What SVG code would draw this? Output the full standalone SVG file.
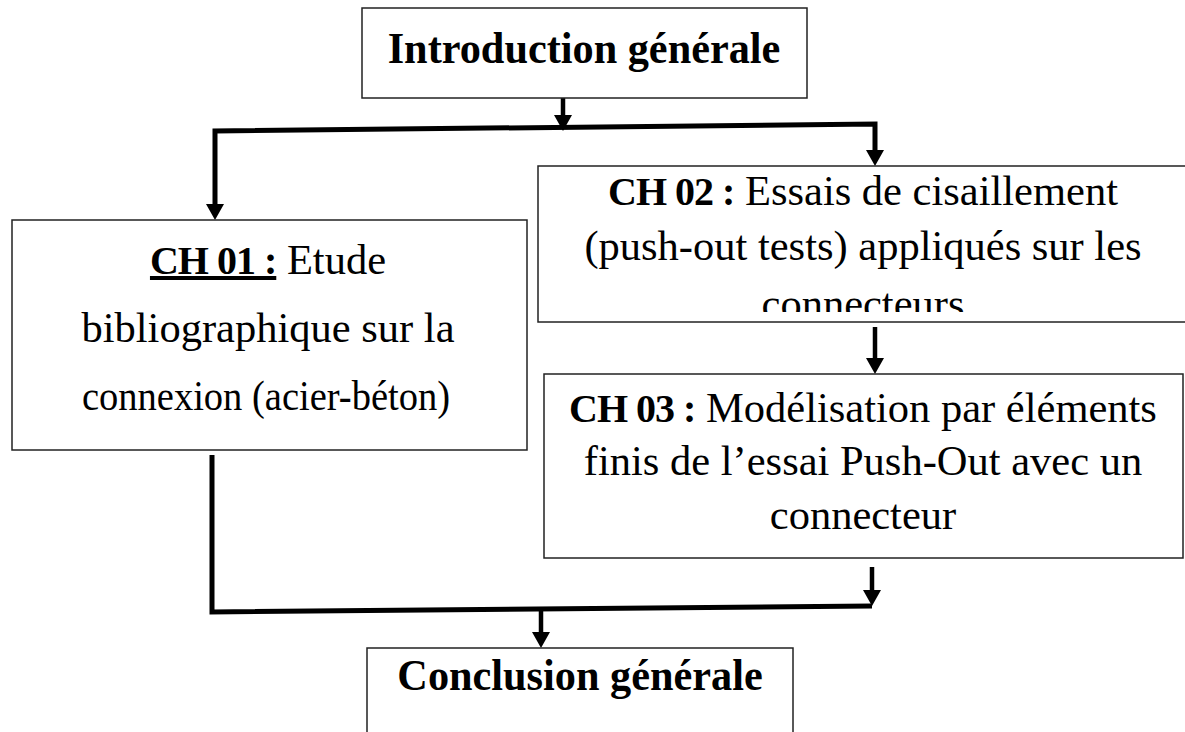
<svg xmlns="http://www.w3.org/2000/svg" width="1185" height="732" viewBox="0 0 1185 732">
  <style>
    .box { fill: #ffffff; stroke: #222222; stroke-width: 1.5; }
    .txt { font-family: "Liberation Serif", "Times New Roman", serif; fill: #000000; text-anchor: middle; }
    .title { font-size: 45px; font-weight: bold; }
    .body { font-size: 42.5px; }
    .b { font-weight: bold; font-size: 40px; letter-spacing: -1px; }
    .u { text-decoration: underline; }
    .link { fill: none; stroke: #000000; stroke-width: 5; stroke-linejoin: miter; stroke-linecap: butt; }
    .short { stroke-width: 4.5; }
  </style>
  <defs>
    <marker id="arrow" markerUnits="userSpaceOnUse" viewBox="0 0 16 18" refX="6" refY="9" markerWidth="16" markerHeight="18" orient="auto-start-reverse">
      <path d="M0,0 L16,9 L0,18 Z" fill="#000000"/>
    </marker>
    <clipPath id="clip-ch02">
      <rect x="538" y="166" width="650" height="146"/>
    </clipPath>
  </defs>

  <rect width="1185" height="732" fill="#ffffff"/>

  <!-- Connectors -->
  <g id="connectors">
    <path class="link short" d="M563 98 L563 121" marker-end="url(#arrow)"/>
    <path class="link" d="M215 210 L215 131 L875 124 L875 156" marker-start="url(#arrow)" marker-end="url(#arrow)"/>
    <path class="link short" d="M875 327 L875 364" marker-end="url(#arrow)"/>
    <path class="link short" d="M872 567 L872 596" marker-end="url(#arrow)"/>
    <path class="link" d="M212 455 L212 612 L872 606"/>
    <path class="link short" d="M541 609 L541 638" marker-end="url(#arrow)"/>
  </g>

  <!-- Introduction -->
  <g id="intro">
    <rect class="box" x="362" y="8" width="445" height="90"/>
    <text class="txt title" x="0" y="63" transform="translate(584 0) scale(0.94 1)">Introduction générale</text>
  </g>

  <!-- Chapter 1 -->
  <g id="ch01">
    <rect class="box" x="12" y="220" width="515" height="230"/>
    <text class="txt body" x="268" y="274"><tspan class="b u">CH 01 :</tspan> Etude</text>
    <text class="txt body" x="268" y="342" textLength="373" lengthAdjust="spacingAndGlyphs">bibliographique sur la</text>
    <text class="txt body" x="266" y="410" textLength="368" lengthAdjust="spacingAndGlyphs">connexion (acier-béton)</text>
  </g>

  <!-- Chapter 2 -->
  <g id="ch02">
    <rect class="box" x="538" y="166" width="660" height="156"/>
    <g clip-path="url(#clip-ch02)">
      <text class="txt body" x="863" y="205"><tspan class="b">CH 02 :</tspan> Essais de cisaillement</text>
      <text class="txt body" x="863" y="260">(push-out tests) appliqués sur les</text>
      <text class="txt body" x="863" y="318">connecteurs</text>
    </g>
  </g>

  <!-- Chapter 3 -->
  <g id="ch03">
    <rect class="box" x="544" y="374" width="639" height="184"/>
    <text class="txt body" x="863" y="422"><tspan class="b">CH 03 :</tspan> Modélisation par éléments</text>
    <text class="txt body" x="863" y="475">finis de l’essai Push-Out avec un</text>
    <text class="txt body" x="863" y="529">connecteur</text>
  </g>

  <!-- Conclusion -->
  <g id="conclusion">
    <rect class="box" x="367" y="648" width="426" height="100"/>
    <text class="txt title" x="0" y="690" transform="translate(580 0) scale(0.94 1)">Conclusion générale</text>
  </g>
</svg>
